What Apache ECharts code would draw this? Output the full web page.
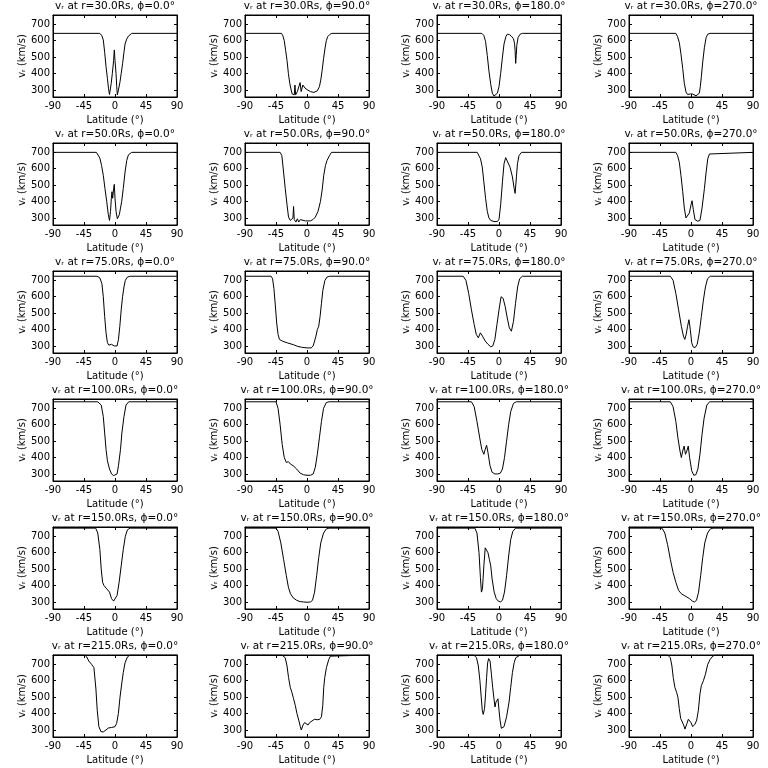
<!DOCTYPE html>
<html><head><meta charset="utf-8">
<script src="https://cdn.jsdelivr.net/npm/echarts@6/dist/echarts.min.js"></script>
<style>html,body{margin:0;background:#fff}#c{width:768px;height:768px}</style>
</head><body><div id="c"></div>
<script>
const radii = [30, 50, 75, 100, 150, 215];
const phis = [0, 90, 180, 270];
const latTicks = [-90, -45, 0, 45, 90];
const vTicks = [300, 400, 500, 600, 700];

// r = 30 Rs
const r30_p0 = [[-90,645],[-22,645],[-19,630],[-17,605],[-15,530],[-13,442],[-11,370],[-9.5,310],[-8,272],[-7,270],[-5.5,340],[-3.9,400],[-2,480],[-1,544],[0,480],[1.5,400],[2.5,320],[3.4,270],[5,300],[7.3,350],[9,400],[11,460],[13,530],[14.6,580],[17,610],[19.5,628],[22,640],[24.3,645],[90,645]];
const r30_p90 = [[-90,645],[-37,645],[-35,630],[-33,600],[-31,540],[-29,480],[-27,400],[-25,340],[-23,300],[-21.5,275],[-20,265],[-18.5,270],[-17.5,330],[-16.5,270],[-15,270],[-14,290],[-12,300],[-10,345],[-8.5,290],[-6,330],[-3,312],[0,302],[5,290],[10,285],[15,295],[18,320],[20,360],[22,420],[24,490],[26,550],[28,600],[30,625],[33,638],[36,645],[90,645]];
const r30_p180 = [[-90,645],[-25,645],[-22,632],[-19.5,595],[-17,510],[-14.6,415],[-12,335],[-9.7,280],[-7.3,263],[-5,260],[-2.4,280],[0,320],[2.4,400],[5,500],[7.3,580],[10,625],[12,640],[15,638],[18,628],[21,612],[22.5,585],[23.4,540],[24.2,462],[25,510],[25.8,570],[27.7,620],[30.7,640],[34,645],[90,645]];
const r30_p270 = [[-90,645],[-22,645],[-19.5,625],[-17,590],[-14.6,520],[-12,430],[-9.7,340],[-7.3,288],[-5,272],[-2.4,270],[-0.5,276],[1,282],[2.5,275],[4,266],[7.3,264],[10,266],[12,280],[13.5,320],[15,380],[17,470],[19.5,560],[22,620],[24.3,640],[27.7,645],[90,645]];

// r = 50 Rs
const r50_p0 = [[-90,700],[-27,700],[-24.3,690],[-22,665],[-19.5,620],[-17,560],[-14.6,480],[-12,400],[-9.7,320],[-8,285],[-6.5,340],[-5.3,420],[-4.4,460],[-3.4,420],[-2,480],[-1,505],[0,420],[1.5,340],[3.4,295],[6.3,320],[8,360],[9.7,400],[12,480],[14.6,580],[17,650],[19.5,685],[24.3,700],[90,700]];
const r50_p90 = [[-90,700],[-39,700],[-36.5,680],[-34,580],[-31.6,480],[-29,380],[-26.8,305],[-24.3,285],[-22,290],[-20.4,300],[-19.5,370],[-18.5,290],[-16,275],[-14,295],[-12,275],[-9.7,290],[-7.3,285],[-2.4,282],[5,282],[8.6,290],[12,305],[16,340],[19.5,400],[22,470],[24.3,560],[26.8,620],[29,650],[32.6,680],[35.5,700],[90,700]];
const r50_p180 = [[-90,700],[-31.6,700],[-29,690],[-26.8,660],[-24.3,610],[-22,520],[-19.5,420],[-17,340],[-14.6,300],[-12,285],[-7.3,278],[-2.4,278],[0,292],[2.4,380],[5,520],[7.3,630],[9.7,668],[12,660],[16,610],[19.5,550],[22,480],[23.4,450],[25.3,550],[26.8,630],[29,680],[32.6,700],[90,700]];
const r50_p270 = [[-90,700],[-22,700],[-19.5,680],[-17,640],[-14.6,560],[-12,460],[-9.7,360],[-7.3,300],[-5,295],[-2.4,330],[0,380],[1.5,405],[3.4,350],[5.8,290],[9.7,280],[13,285],[16,360],[19.5,480],[22,580],[24.3,660],[26.8,690],[29,700],[90,700]];

// r = 75 Rs
const r75_p0 = [[-90,725],[-26,725],[-22,715],[-19,680],[-17,600],[-15,480],[-13,380],[-11,320],[-9,305],[-7,300],[-5,310],[-3,305],[-1,300],[1,292],[3,300],[5,340],[7,420],[9,520],[11,600],[13,660],[15,700],[18,720],[22,725],[90,725]];
const r75_p90 = [[-90,725],[-52,725],[-50,710],[-48,650],[-46,550],[-44,440],[-42,370],[-40,340],[-35,328],[-28,318],[-20,308],[-14,298],[-8,292],[0,288],[6,288],[9,300],[11,330],[13,360],[15,400],[17,420],[19,480],[21,560],[23,640],[26,700],[29,720],[33,725],[90,725]];
const r75_p180 = [[-90,725],[-52,725],[-48,700],[-44,620],[-40,520],[-36,430],[-33,370],[-30,350],[-27,380],[-24,360],[-20,330],[-16,310],[-12,295],[-9,300],[-6,340],[-3,430],[0,520],[3,600],[6,590],[9,540],[12,470],[15,410],[18,390],[21,450],[24,560],[27,660],[30,710],[34,725],[90,725]];
const r75_p270 = [[-90,725],[-30,725],[-26,700],[-22,620],[-18,520],[-14,420],[-11,360],[-9,340],[-7,370],[-5,420],[-3,460],[-1,400],[1,320],[3,295],[6,290],[9,310],[12,380],[15,480],[18,580],[21,660],[24,710],[28,725],[90,725]];

// r = 100 Rs
const r100_p0 = [[-90,740],[-25,740],[-20,720],[-17,650],[-15,550],[-13,450],[-11,380],[-8,330],[-5,300],[-2,290],[0,290],[3,300],[5,350],[8,450],[10,550],[13,650],[16,720],[20,740],[90,740]];
const r100_p90 = [[-90,740],[-45,740],[-42,700],[-39,600],[-36,480],[-33,400],[-30,370],[-27,375],[-24,360],[-20,350],[-15,330],[-10,305],[-5,295],[0,292],[5,292],[9,300],[12,340],[15,420],[18,520],[21,620],[24,700],[28,735],[32,740],[90,740]];
const r100_p180 = [[-90,740],[-40,740],[-36,710],[-32,620],[-28,520],[-25,450],[-22,420],[-20,450],[-18,475],[-16,430],[-13,350],[-10,310],[-6,300],[-2,300],[2,305],[5,330],[8,400],[11,500],[14,600],[17,680],[21,730],[25,740],[90,740]];
const r100_p270 = [[-90,740],[-30,740],[-26,710],[-22,620],[-19,520],[-16,440],[-14,400],[-12,440],[-10,470],[-8,420],[-6,440],[-4,470],[-2,400],[1,320],[4,292],[7,295],[10,330],[13,420],[16,540],[19,640],[23,720],[27,740],[90,740]];

// r = 150 Rs
const r150_p0 = [[-90,750],[-28,750],[-25,720],[-22,620],[-20,500],[-18,420],[-16,400],[-14,410],[-12,380],[-10,390],[-8,360],[-5,320],[-2,305],[0,310],[3,340],[6,420],[9,520],[12,620],[15,700],[18,740],[22,750],[90,750]];
const r150_p90 = [[-90,750],[-45,750],[-42,730],[-38,660],[-34,560],[-30,460],[-27,390],[-24,350],[-20,325],[-15,310],[-10,302],[-5,300],[0,298],[5,300],[8,310],[11,360],[14,460],[17,570],[20,660],[24,720],[28,745],[32,750],[90,750]];
const r150_p180 = [[-90,750],[-35,750],[-32,720],[-29,600],[-27,450],[-25.5,360],[-24,380],[-22,520],[-20,630],[-18,640],[-16,600],[-14,560],[-12,520],[-10,440],[-7,360],[-4,320],[-1,305],[2,300],[5,310],[8,360],[11,460],[14,580],[17,680],[20,730],[24,750],[90,750]];
const r150_p270 = [[-90,750],[-42,750],[-38,720],[-34,650],[-30,560],[-26,480],[-22,420],[-18,370],[-14,350],[-10,340],[-6,330],[-2,320],[2,305],[5,300],[8,310],[11,360],[14,460],[17,570],[20,660],[24,720],[28,745],[32,750],[90,750]];

// r = 215 Rs
const r215_p0 = [[-90,757],[-44,757],[-41,745],[-38,720],[-34,700],[-30.6,680],[-27.7,550],[-25.8,420],[-23.4,320],[-20.4,290],[-17,288],[-13,300],[-9.7,312],[-4.9,315],[0,320],[2.4,340],[4.9,400],[7.3,500],[9.7,580],[12,650],[14.6,710],[18,745],[22,757],[90,757]];
const r215_p90 = [[-90,757],[-36.5,757],[-31.6,740],[-29,690],[-26.8,620],[-24.3,560],[-22,530],[-19.5,490],[-17,450],[-14.6,400],[-12,360],[-9.7,320],[-8.3,300],[-5.8,330],[-3.4,345],[-1,340],[1.5,330],[3.9,345],[7.3,355],[10.7,365],[14.6,362],[18.5,365],[21,380],[22.9,450],[24.3,560],[25.8,620],[28.2,680],[31.6,730],[34,750],[36.5,757],[90,757]];
const r215_p180 = [[-90,757],[-36.5,757],[-32.6,740],[-30,690],[-27.7,600],[-25.8,500],[-24.3,420],[-22.9,395],[-21,430],[-19.5,520],[-18,620],[-16.5,710],[-15,735],[-13,720],[-11,640],[-9.2,560],[-7.3,490],[-5.8,440],[-4.4,470],[-2.4,460],[-1.5,490],[0,420],[1.5,360],[3.4,310],[4.9,300],[7.3,320],[11,380],[14.6,470],[17,560],[19.5,650],[22,710],[24.3,740],[26.8,750],[30.7,757],[90,757]];
const r215_p270 = [[-90,757],[-34,757],[-30,740],[-27.7,690],[-25.8,620],[-23.4,560],[-21,530],[-19,500],[-17,430],[-15,370],[-13,360],[-10.7,330],[-8.8,305],[-5.8,340],[-3.9,365],[-2.4,375],[0,345],[2.4,320],[5.8,335],[8.3,360],[10.7,420],[13,520],[15,570],[18,600],[21,640],[24.3,700],[27.7,730],[31.6,750],[35.5,757],[90,757]];

const curves = [
  [r30_p0, r30_p90, r30_p180, r30_p270],
  [r50_p0, r50_p90, r50_p180, r50_p270],
  [r75_p0, r75_p90, r75_p180, r75_p270],
  [r100_p0, r100_p90, r100_p180, r100_p270],
  [r150_p0, r150_p90, r150_p180, r150_p270],
  [r215_p0, r215_p90, r215_p180, r215_p270]
];

const FONT = 'DejaVu Sans';
const ink = '#000';
const yMin = 257, yMax = 757;
const grid = [], xAxis = [], yAxis = [], series = [], title = [];
radii.forEach((r, ri) => {
  phis.forEach((p, ci) => {
    const gi = grid.length;
    const left = 53 + 192 * ci, top = 15 + 128 * ri;
    grid.push({left: left, top: top, width: 124, height: 82, show: true, borderColor: ink, borderWidth: 1, backgroundColor: 'transparent'});
    title.push({
      text: 'v\u1d63 at r=' + r.toFixed(1) + 'Rs, \u03d5=' + p.toFixed(1) + '\u00b0',
      left: left + 62, top: top - 14, textAlign: 'center', padding: 0,
      textStyle: {fontFamily: FONT, fontSize: 10.5, fontWeight: 'normal', color: ink}
    });
    const tickStyle = {lineStyle: {color: ink, width: 1}};
    xAxis.push({
      gridIndex: gi, type: 'value', min: -90, max: 90, position: 'bottom',
      axisLine: {show: true, onZero: false, lineStyle: {color: ink, width: 1}},
      axisTick: {show: true, inside: true, length: 3, customValues: latTicks, ...tickStyle},
      axisLabel: {show: true, customValues: latTicks, margin: 4, fontFamily: FONT, fontSize: 10, color: ink},
      splitLine: {show: false},
      name: 'Latitude (\u00b0)', nameLocation: 'middle', nameGap: 18,
      nameTextStyle: {fontFamily: FONT, fontSize: 10, color: ink}
    });
    xAxis.push({
      gridIndex: gi, type: 'value', min: -90, max: 90, position: 'top',
      axisLine: {show: true, onZero: false, lineStyle: {color: ink, width: 1}},
      axisTick: {show: true, inside: true, length: 3, customValues: latTicks, ...tickStyle},
      axisLabel: {show: false}, splitLine: {show: false}
    });
    yAxis.push({
      gridIndex: gi, type: 'value', min: yMin, max: yMax, position: 'left',
      axisLine: {show: true, onZero: false, lineStyle: {color: ink, width: 1}},
      axisTick: {show: true, inside: true, length: 3, customValues: vTicks, ...tickStyle},
      axisLabel: {show: true, customValues: vTicks, margin: 3, fontFamily: FONT, fontSize: 10, color: ink},
      splitLine: {show: false},
      name: 'v\u1d63 (km/s)', nameLocation: 'middle', nameGap: 26,
      nameTextStyle: {fontFamily: FONT, fontSize: 10, color: ink}
    });
    yAxis.push({
      gridIndex: gi, type: 'value', min: yMin, max: yMax, position: 'right',
      axisLine: {show: true, onZero: false, lineStyle: {color: ink, width: 1}},
      axisTick: {show: true, inside: true, length: 3, customValues: vTicks, ...tickStyle},
      axisLabel: {show: false}, splitLine: {show: false}
    });
    series.push({
      type: 'line', xAxisIndex: 2 * gi, yAxisIndex: 2 * gi,
      data: curves[ri][ci], showSymbol: false, symbol: 'none', smooth: false,
      lineStyle: {color: ink, width: 1}, silent: true, clip: true
    });
  });
});

const chart = echarts.init(document.getElementById('c'), null, {renderer: 'canvas'});
chart.setOption({
  backgroundColor: '#fff', animation: false,
  title: title, grid: grid, xAxis: xAxis, yAxis: yAxis, series: series
});
</script></body></html>
